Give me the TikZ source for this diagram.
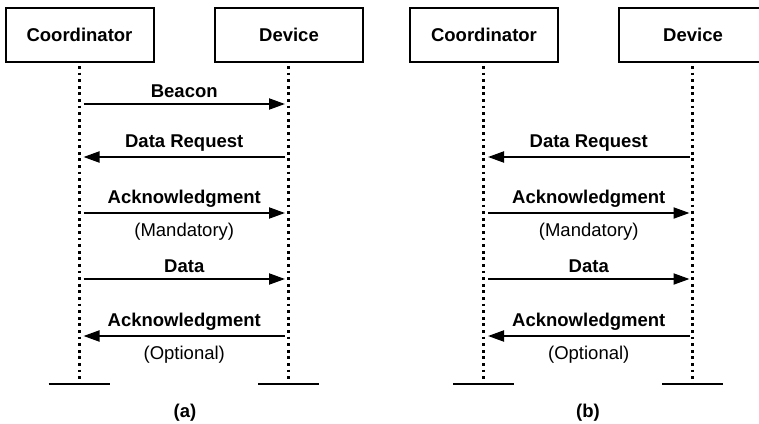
\documentclass[tikz,border=0pt]{standalone}
\usepackage{fontspec}
\setmainfont{Liberation Sans}
\usetikzlibrary{arrows.meta}

\tikzset{
  entity/.style={draw, line width=1pt, minimum width=74pt, minimum height=27pt, font=\bfseries},
  lifeline/.style={line width=1.5pt, dash pattern=on 1.4pt off 1.9pt, shorten <=1.5pt},
  msg/.style={line width=1pt, -{Triangle[length=8pt,width=5.5pt]}},
  ground/.style={line width=1pt},
  tag/.style={font=\bfseries, above=0.5pt, inner sep=2pt},
  note/.style={below=2.5pt, inner sep=2pt}
}

\begin{document}
\fontsize{9.25}{11}\selectfont
\begin{tikzpicture}[x=0.5pt, y=-0.5pt]
        \useasboundingbox (0,0) rectangle (759,423);

        % Entities
        \node[entity] (coorda) at (79.5,35) {Coordinator};
        \node[entity] (deva) at (289,35) {Device};
        \node[entity] (coordb) at (484,35) {Coordinator};
        \node[entity] (devb) at (693,35) {Device};

        % Lifeline ends
        \coordinate (enda) at (79,384);
        \coordinate (endda) at (288.5,384);
        \coordinate (endb) at (483.5,384);
        \coordinate (enddb) at (692.5,384);

        % Lifelines
        \draw[lifeline] (coorda.south -| enda) -- (enda);
        \draw[lifeline] (deva.south -| endda) -- (endda);
        \draw[lifeline] (coordb.south -| endb) -- (endb);
        \draw[lifeline] (devb.south -| enddb) -- (enddb);

        % Ground bars
        \foreach \e in {enda,endda,endb,enddb}
          \draw[ground] ([xshift=-15.25pt]\e) -- ([xshift=15.25pt]\e);

        % Message rows
        \foreach \r/\y in {1/104,2/157,3/213,4/279,5/336} {
          \coordinate (la\r) at (83.5,\y);
          \coordinate (ra\r) at (285,\y);
          \coordinate (lb\r) at (488,\y);
          \coordinate (rb\r) at (689.5,\y);
        }

        % Messages (a)
        \draw[msg] (la1) -- node[tag] {Beacon} (ra1);
        \draw[msg] (ra2) -- node[tag] {Data Request} (la2);
        \draw[msg] (la3) -- node[tag] {Acknowledgment} node[note] {(Mandatory)} (ra3);
        \draw[msg] (la4) -- node[tag] {Data} (ra4);
        \draw[msg] (ra5) -- node[tag] {Acknowledgment} node[note] {(Optional)} (la5);

        % Messages (b)
        \draw[msg] (rb2) -- node[tag] {Data Request} (lb2);
        \draw[msg] (lb3) -- node[tag] {Acknowledgment} node[note] {(Mandatory)} (rb3);
        \draw[msg] (lb4) -- node[tag] {Data} (rb4);
        \draw[msg] (rb5) -- node[tag] {Acknowledgment} node[note] {(Optional)} (lb5);

        % Captions
        \node[font=\bfseries] (capa) at (185,413) {(a)};
        \node[font=\bfseries] (capb) at (588,413) {(b)};
    \end{tikzpicture}
\end{document}
